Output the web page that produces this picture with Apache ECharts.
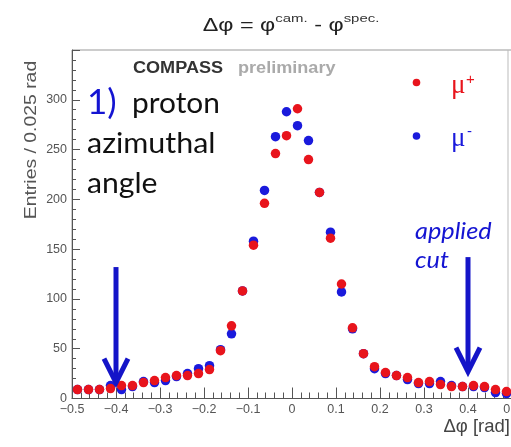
<!DOCTYPE html>
<html>
<head>
<meta charset="utf-8">
<script src="https://cdn.jsdelivr.net/npm/echarts@6/dist/echarts.min.js"></script>
<style>
  html, body { margin: 0; padding: 0; background: #ffffff; }
  #chart { width: 511px; height: 447px; }
</style>
</head>
<body>
<div id="chart"></div>
<script>
// Histogram bin centres of Δφ (bin width 0.025 rad)
const binCenters = [
  -0.4875, -0.4625, -0.4375, -0.4125, -0.3875, -0.3625, -0.3375, -0.3125,
  -0.2875, -0.2625, -0.2375, -0.2125, -0.1875, -0.1625, -0.1375, -0.1125,
  -0.0875, -0.0625, -0.0375, -0.0125,  0.0125,  0.0375,  0.0625,  0.0875,
   0.1125,  0.1375,  0.1625,  0.1875,  0.2125,  0.2375,  0.2625,  0.2875,
   0.3125,  0.3375,  0.3625,  0.3875,  0.4125,  0.4375,  0.4625,  0.4875
];

// Entries per bin, μ+ beam
const muPlus = [
   9,  9,  9, 10, 13, 13, 16, 18,
  21, 23, 23, 25, 29, 48, 73, 108,
 154, 196, 246, 264, 291, 240, 207, 161,
 115, 71, 45, 32, 26, 23, 21, 16,
  17, 14, 12, 12, 13, 12,  9,  7
];

// Entries per bin, μ- beam
const muMinus = [
   9,  9,  9, 13,  9, 12, 17, 16,
  18, 22, 25, 30, 33, 49, 65, 108,
 158, 209, 263, 288, 274, 259, 207, 167,
 107, 70, 45, 30, 25, 23, 19, 15,
  15, 17, 13, 12, 12, 11,  6,  5
];

// Selection cut at |Δφ| = 0.4 rad: arrow x, top and tip (in entries)
const cutArrows = [
  { x: -0.4, top: 132, tip: 16 },
  { x:  0.4, top: 142, tip: 27 }
];

const xRange = [-0.5, 0.5];
const yRange = [0, 350];

const RED = '#e8141c';
const BLUE = '#1a1adc';
const ARROW = '#1414c8';
const AXIS = '#555555';

const chart = echarts.init(document.getElementById('chart'), null, { renderer: 'canvas' });

function fmtX(v) {
  if (Math.abs(v) < 1e-9) return '0';
  return (v < 0 ? '\u2212' : '') + Math.abs(v).toFixed(1);
}

chart.setOption({
  backgroundColor: '#ffffff',
  animation: false,
  grid: {
    left: 72, right: -1, top: 50, bottom: 48.5,
    outerBoundsMode: 'none', containLabel: false,
    show: true, borderColor: '#999999', borderWidth: 1, backgroundColor: 'transparent'
  },
  xAxis: {
    type: 'value', min: xRange[0], max: xRange[1], interval: 0.1,
    axisLine: { onZero: false, lineStyle: { color: AXIS, width: 1 } },
    axisTick: { inside: true, length: 11, lineStyle: { color: AXIS } },
    minorTick: { show: true, splitNumber: 5, length: 6, lineStyle: { color: AXIS } },
    axisLabel: {
      formatter: fmtX, color: AXIS, fontSize: 12.5, margin: 5,
      fontFamily: 'Liberation Sans', showMaxLabel: true, hideOverlap: false
    },
    splitLine: { show: false },
    minorSplitLine: { show: false },
    name: 'Δφ [rad]', nameLocation: 'end', nameGap: -2,
    nameTextStyle: {
      color: '#444', fontSize: 18.5, fontFamily: 'Liberation Sans',
      align: 'right', verticalAlign: 'top', padding: [19, 0, 0, 0]
    }
  },
  yAxis: {
    type: 'value', min: yRange[0], max: yRange[1], interval: 50,
    axisLine: { show: true, onZero: false, lineStyle: { color: AXIS, width: 1 } },
    axisTick: { show: true, inside: true, length: 8, lineStyle: { color: AXIS } },
    minorTick: { show: true, splitNumber: 5, length: 4, lineStyle: { color: AXIS } },
    axisLabel: {
      formatter: v => (v > 300 ? '' : String(v)),
      color: AXIS, fontSize: 12.5, margin: 5, fontFamily: 'Liberation Sans'
    },
    splitLine: { show: false },
    minorSplitLine: { show: false }
  },
  series: [
    {
      name: 'μ-', type: 'scatter', symbol: 'circle', symbolSize: 9.5,
      itemStyle: { color: BLUE, opacity: 1 },
      data: binCenters.map((x, i) => [x, muMinus[i]]),
      z: 2
    },
    {
      name: 'μ+', type: 'scatter', symbol: 'circle', symbolSize: 9.5,
      itemStyle: { color: RED, opacity: 1 },
      data: binCenters.map((x, i) => [x, muPlus[i]]),
      z: 3
    }
  ]
});

// Annotations: title, labels, legend and cut arrows
const graphics = [];

graphics.push({
  type: 'text', x: 291, y: 24, z: 10, scaleX: 1.3,
  style: {
    text: '{g|Δφ = φ}{s|cam.}{g| - φ}{s|spec.}',
    align: 'center', verticalAlign: 'middle',
    rich: {
      g: { fontFamily: 'Liberation Sans', fontSize: 18, fill: '#222', verticalAlign: 'bottom', lineHeight: 22 },
      s: { fontFamily: 'Liberation Sans', fontSize: 11.5, fill: '#333', verticalAlign: 'top', lineHeight: 22 }
    }
  }
});

graphics.push({
  type: 'text', x: 31, y: 140, rotation: Math.PI / 2, scaleX: 1.14, z: 10,
  style: {
    text: 'Entries / 0.025 rad', fontFamily: 'Liberation Sans', fontSize: 17,
    fill: '#555', align: 'center', verticalAlign: 'middle'
  }
});

graphics.push({
  type: 'text', x: 133, y: 69, z: 10, scaleX: 1.13,
  style: { text: 'COMPASS', fontFamily: 'Liberation Sans', fontWeight: 'bold', fontSize: 16,
           fill: '#333', align: 'left', verticalAlign: 'middle' }
});
graphics.push({
  type: 'text', x: 238, y: 69, z: 10, scaleX: 1.13,
  style: { text: 'preliminary', fontFamily: 'Liberation Sans', fontWeight: 'bold', fontSize: 16,
           fill: '#aaaaaa', align: 'left', verticalAlign: 'middle' }
});

const bodyFont = 'Lato';
graphics.push({
  type: 'text', x: 87, y: 103, z: 10,
  style: { text: '1)', fontFamily: bodyFont, fontSize: 35, fill: '#1414d2', align: 'left', verticalAlign: 'middle' }
});
graphics.push({
  type: 'text', x: 132, y: 104, z: 10, scaleX: 1.03,
  style: { text: 'proton', fontFamily: bodyFont, fontSize: 29, fill: '#111', align: 'left', verticalAlign: 'middle' }
});
graphics.push({
  type: 'text', x: 87, y: 144, z: 10, scaleX: 1.05,
  style: { text: 'azimuthal', fontFamily: bodyFont, fontSize: 29, fill: '#111', align: 'left', verticalAlign: 'middle' }
});
graphics.push({
  type: 'text', x: 87, y: 184, z: 10, scaleX: 1.04,
  style: { text: 'angle', fontFamily: bodyFont, fontSize: 29, fill: '#111', align: 'left', verticalAlign: 'middle' }
});

graphics.push({
  type: 'text', x: 415, y: 232, z: 10, scaleX: 1.1,
  style: { text: 'applied', fontFamily: bodyFont, fontStyle: 'italic', fontSize: 23, fill: '#1414d2',
           align: 'left', verticalAlign: 'middle' }
});
graphics.push({
  type: 'text', x: 415, y: 261, z: 10, scaleX: 1.1,
  style: { text: 'cut', fontFamily: bodyFont, fontStyle: 'italic', fontSize: 23, fill: '#1414d2',
           align: 'left', verticalAlign: 'middle' }
});

// Legend
graphics.push({ type: 'circle', shape: { cx: 416.5, cy: 82.5, r: 3.8 }, style: { fill: RED }, z: 10 });
graphics.push({ type: 'circle', shape: { cx: 416.5, cy: 136, r: 3.8 }, style: { fill: BLUE }, z: 10 });
graphics.push({
  type: 'text', x: 451, y: 86, z: 10,
  style: { text: 'μ', fontFamily: 'Liberation Serif', fontSize: 27, fill: RED, align: 'left', verticalAlign: 'middle' }
});
graphics.push({
  type: 'text', x: 466, y: 80, z: 10,
  style: { text: '+', fontFamily: 'Liberation Sans', fontSize: 15, fill: RED, align: 'left', verticalAlign: 'middle' }
});
graphics.push({
  type: 'text', x: 451, y: 139, z: 10,
  style: { text: 'μ', fontFamily: 'Liberation Serif', fontSize: 27, fill: BLUE, align: 'left', verticalAlign: 'middle' }
});
graphics.push({
  type: 'text', x: 467, y: 132, z: 10,
  style: { text: '-', fontFamily: 'Liberation Sans', fontSize: 15, fill: BLUE, align: 'left', verticalAlign: 'middle' }
});

// Right frame edge
graphics.push({
  type: 'line', shape: { x1: 508, y1: 50, x2: 508, y2: 398 },
  style: { stroke: '#bbbbbb', lineWidth: 1 }, z: 1
});

// Cut arrows, placed through the grid's coordinate system
cutArrows.forEach((a) => {
  const top = chart.convertToPixel({ gridIndex: 0 }, [a.x, a.top]);
  const tip = chart.convertToPixel({ gridIndex: 0 }, [a.x, a.tip]);
  graphics.push({
    type: 'line', z: 12,
    shape: { x1: top[0], y1: top[1], x2: tip[0], y2: tip[1] - 2 },
    style: { stroke: ARROW, lineWidth: 5 }
  });
  graphics.push({
    type: 'polyline', z: 12,
    shape: { points: [[tip[0] - 12, tip[1] - 24], [tip[0], tip[1]], [tip[0] + 12, tip[1] - 24]] },
    style: { stroke: ARROW, lineWidth: 5, fill: null, lineJoin: 'miter' }
  });
});

chart.setOption({ graphic: graphics });
</script>
</body>
</html>
